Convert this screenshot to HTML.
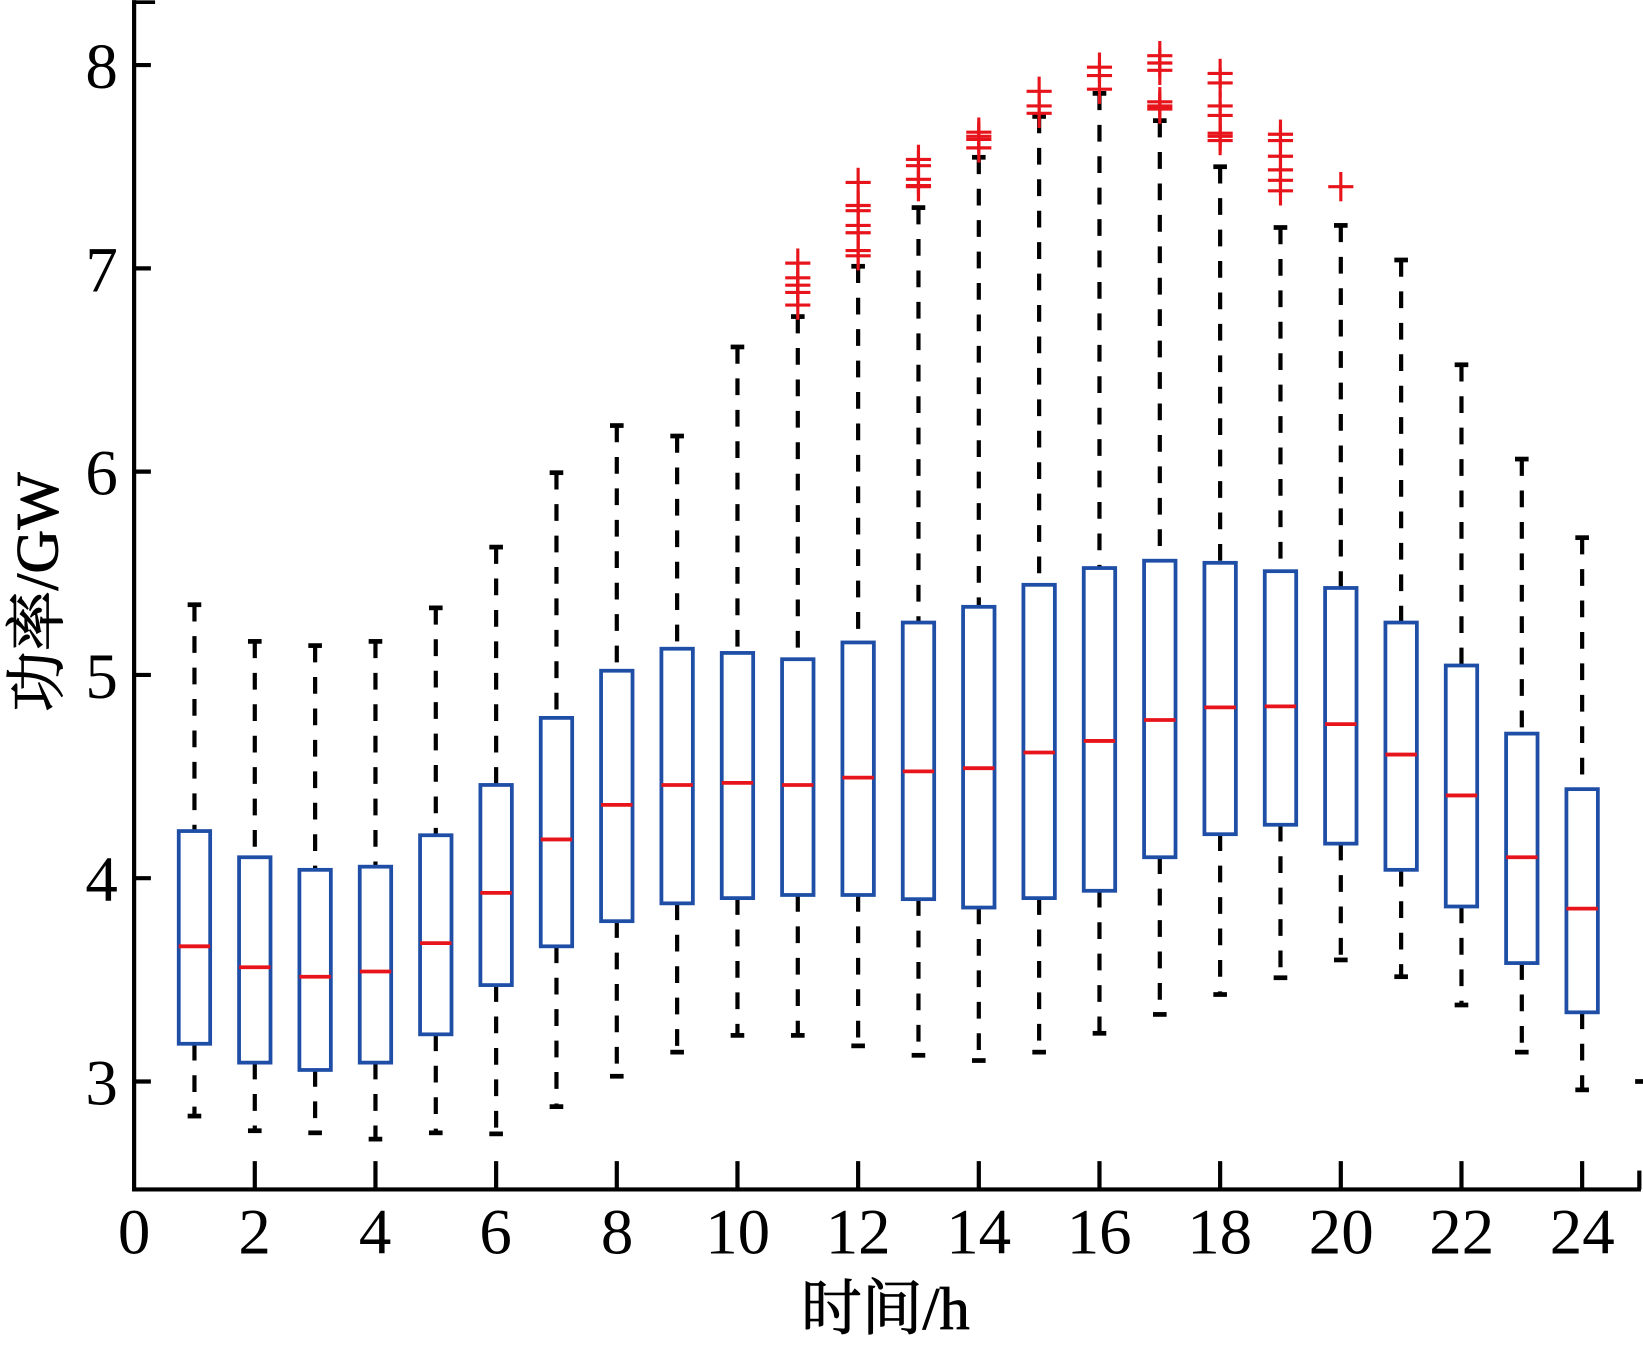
<!DOCTYPE html>
<html><head><meta charset="utf-8"><style>html,body{margin:0;padding:0;background:#fff;}svg{display:block}text{font-family:"Liberation Serif","Noto Serif CJK SC",serif;}</style></head>
<body>
<svg id="s" width="1643" height="1353" viewBox="0 0 1568 1291" xmlns="http://www.w3.org/2000/svg">
<g id="plot"></g>
<g font-size="62" fill="#000">
<text x="97" y="84" text-anchor="middle">8</text>
<text x="97" y="278" text-anchor="middle">7</text>
<text x="97" y="472" text-anchor="middle">6</text>
<text x="97" y="666" text-anchor="middle">5</text>
<text x="97" y="860" text-anchor="middle">4</text>
<text x="97" y="1054" text-anchor="middle">3</text>
<text x="128" y="1196" text-anchor="middle">0</text>
<text x="243" y="1196" text-anchor="middle">2</text>
<text x="358" y="1196" text-anchor="middle">4</text>
<text x="473" y="1196" text-anchor="middle">6</text>
<text x="589" y="1196" text-anchor="middle">8</text>
<text x="704" y="1196" text-anchor="middle">10</text>
<text x="819" y="1196" text-anchor="middle">12</text>
<text x="934" y="1196" text-anchor="middle">14</text>
<text x="1049" y="1196" text-anchor="middle">16</text>
<text x="1164" y="1196" text-anchor="middle">18</text>
<text x="1280" y="1196" text-anchor="middle">20</text>
<text x="1395" y="1196" text-anchor="middle">22</text>
<text x="1510" y="1196" text-anchor="middle">24</text>
<text x="845" y="1268" text-anchor="middle" font-size="58" stroke="#000" stroke-width="0.8">时间/h</text>
<text transform="translate(55,565) rotate(-90)" text-anchor="middle" font-size="58" stroke="#000" stroke-width="0.8">功率/GW</text>
</g>
</svg>
<script>
var X0=128,U=57.58;
function yv(v){return 62+(8-v)*194;}
var d=[[577,793,903,996,1065],[612,818,923,1014,1079],[616,830,932,1021,1081],[612,827,927,1014,1087],[580,797,900,987,1081],[522,749,852,940,1082],[451,685,801,903,1056],[406,640,768,879,1027],[416,619,749,862,1004],[331,623,747,857,988],[302,629,749,854,988],[254,613,742,854,998],[198,594,736,858,1007],[150,579,733,866,1012],[111,558,718,857,1004],[89,542,707,850,986],[115,535,687,818,968],[159,537,675,796,949],[217,545,674,787,933],[215,561,691,805,916],[248,594,720,830,932],[348,635,759,865,959],[438,700,818,919,1004],[513,753,867,966,1040]];
var o={11:[251,265,272,279,291],12:[174,196,201,215,222,239,244],13:[152,158,171,177,178],14:[126,130,133,141],15:[87,101,108],16:[64,72,85],17:[53,60,67,97,101,104],18:[70,79,101,110,127,130,134],19:[128,134,149,162,172,182],20:[178]};
var s='';
for(var i=0;i<24;i++){var x=X0+(i+1)*U,b=d[i],w=15;
s+='<line x1="'+x+'" y1="'+b[0]+'" x2="'+x+'" y2="'+b[1]+'" stroke="#000" stroke-width="4" stroke-dasharray="16 14"/>';
s+='<line x1="'+x+'" y1="'+b[3]+'" x2="'+x+'" y2="'+b[4]+'" stroke="#000" stroke-width="4" stroke-dasharray="16 14"/>';
s+='<line x1="'+(x-6.5)+'" y1="'+b[0]+'" x2="'+(x+6.5)+'" y2="'+b[0]+'" stroke="#000" stroke-width="4.5"/>';
s+='<line x1="'+(x-6.5)+'" y1="'+b[4]+'" x2="'+(x+6.5)+'" y2="'+b[4]+'" stroke="#000" stroke-width="4.5"/>';
s+='<rect x="'+(x-w)+'" y="'+b[1]+'" width="'+(2*w)+'" height="'+(b[3]-b[1])+'" fill="none" stroke="#1f4ea6" stroke-width="3.6"/>';
s+='<line x1="'+(x-w)+'" y1="'+b[2]+'" x2="'+(x+w)+'" y2="'+b[2]+'" stroke="#e8141c" stroke-width="3.6"/>';
var oo=o[i+1];if(oo){for(var k=0;k<oo.length;k++){var yy=oo[k];
s+='<line x1="'+(x-12)+'" y1="'+yy+'" x2="'+(x+12)+'" y2="'+yy+'" stroke="#e8141c" stroke-width="3"/>';
s+='<line x1="'+x+'" y1="'+(yy-14)+'" x2="'+x+'" y2="'+(yy+14)+'" stroke="#e8141c" stroke-width="3"/>';}}
}
var x25=X0+25*U;
s+='<line x1="'+(x25-7)+'" y1="1032" x2="'+(x25+3)+'" y2="1032" stroke="#000" stroke-width="4.5"/>';
s+='<line x1="128" y1="0" x2="128" y2="1137" stroke="#000" stroke-width="4"/>';
s+='<line x1="126" y1="1135" x2="1566" y2="1135" stroke="#000" stroke-width="4"/>';
s+='<line x1="128" y1="2" x2="148" y2="2" stroke="#000" stroke-width="3.5"/>';
for(var v=3;v<=8;v++){s+='<line x1="128" y1="'+yv(v)+'" x2="144" y2="'+yv(v)+'" stroke="#000" stroke-width="4"/>';}
for(var t=2;t<=24;t+=2){var xx=X0+t*U;s+='<line x1="'+xx+'" y1="1135" x2="'+xx+'" y2="1108" stroke="#000" stroke-width="4"/>';}
s+='<line x1="1564.5" y1="1135" x2="1564.5" y2="1117" stroke="#000" stroke-width="4"/>';
document.getElementById('plot').innerHTML=s;
</script>
</body></html>
